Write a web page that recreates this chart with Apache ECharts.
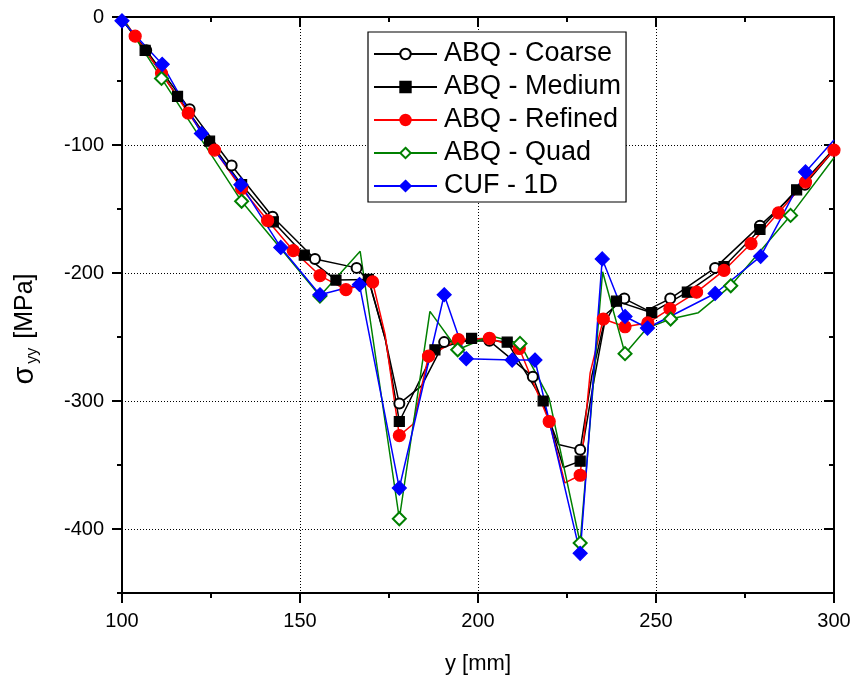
<!DOCTYPE html>
<html>
<head>
<meta charset="utf-8">
<script src="https://cdn.jsdelivr.net/npm/echarts@6/dist/echarts.min.js"></script>
<style>
html,body{margin:0;padding:0;background:#fff;}
#chart{width:855px;height:683px;}
</style>
</head>
<body>
<div id="chart"></div>
<script>
// ---- data (y in mm, sigma_yy in MPa); *Mark: 1 = node drawn with a marker ----
const coarseX = [100, 106.8, 119, 130.8, 142.3, 154.2, 165.9, 169.5, 174, 177.9, 184.2, 190.5, 203.2, 215.4, 222.6, 228.7, 232, 236, 241.1, 247.5, 254, 266.6, 279.2, 291.8, 300];
const coarseY = [-2, -26, -72, -116, -156, -189, -196, -207, -252, -302, -288, -254, -253, -281, -334, -338, -280, -232, -220, -229, -220, -196, -163, -131, -104];
const coarseMark = [0,1,1,1,1,1,1,0,0,1,0,1,1,1,0,1,0,0,1,0,1,1,1,1,0];

const mediumX = [100, 106.5, 115.6, 124.6, 133.6, 142.5, 151.2, 160.1, 169.2, 174, 177.9, 187.9, 198.2, 208.2, 218.3, 224, 228.7, 232.5, 235.5, 238.9, 248.8, 258.8, 269.1, 279.2, 289.5, 300];
const mediumY = [-2, -26, -62, -97, -131, -160, -186, -205.5, -205, -252, -316, -260, -251, -254, -300, -352, -347, -285, -240, -222, -231, -215, -195, -166, -135, -103];
const mediumMark = [0,1,1,1,1,1,1,1,1,0,1,1,1,1,1,0,1,0,0,1,1,1,1,1,1,0];

const refinedX = [100, 103.7, 111.1, 118.6, 126, 133.6, 140.9, 148.1, 155.6, 162.9, 170.4, 173.9, 177.9, 181.8, 186.1, 194.5, 203.2, 211.6, 220, 224.4, 228.7, 231.5, 235.2, 241.3, 247.7, 253.9, 261.4, 269.1, 276.7, 284.4, 292, 300];
const refinedY = [0, -15, -44, -75, -104, -134, -159, -182.5, -202, -213, -207, -248, -327, -318, -265, -252, -251, -259, -316, -364, -358, -278, -236, -242, -239, -228, -215, -198, -177, -153, -129, -104];
const refinedMark = [0,1,1,1,1,1,1,1,1,1,1,0,1,0,1,1,1,1,1,0,1,0,1,1,1,1,1,1,1,1,1,1];

const quadX = [100, 111.1, 133.6, 155.6, 166.9, 177.9, 186.5, 194.3, 203.4, 211.8, 220, 228.7, 235, 241.3, 247.5, 254.1, 261.9, 271, 287.8, 300];
const quadY = [0, -48, -144, -218, -183, -392, -230, -260, -249, -255, -298, -411, -199, -263, -243, -236, -231, -210, -155, -110];
const quadMark = [0,1,1,1,0,1,0,1,0,1,0,1,0,1,0,1,0,1,1,0];

const cufX = [100, 111.3, 122.3, 133.4, 144.6, 155.6, 166.7, 177.9, 190.5, 196.7, 209.6, 216, 228.7, 234.9, 241.3, 247.6, 266.6, 279.4, 292, 300];
const cufY = [-3, -37, -91, -131, -180, -217, -209, -368, -217, -267, -268, -268, -419, -189, -234, -243, -216, -187, -121, -96];
const cufMark = [1,1,1,1,1,1,1,1,1,1,1,1,1,1,1,1,1,1,1,0];

const seriesNames = ['ABQ - Coarse', 'ABQ - Medium', 'ABQ - Refined', 'ABQ - Quad', 'CUF - 1D'];
const yMajorTicks = [-400, -300, -200, -100, 0];
const xMin = 100, xMax = 300, yMin = -450, yMax = 0;

function pts(xs, ys, mk) {
  return xs.map((x, i) => {
    const d = { value: [x, ys[i]] };
    if (!mk[i]) d.symbol = 'none';
    return d;
  });
}

const FONT = '"Liberation Sans", Arial, sans-serif';
const BLACK = '#000';

function lineSeries(name, data, color, symbol, size) {
  return {
    name: name, type: 'line', data: data,
    symbol: symbol, symbolSize: size,
    lineStyle: { color: color, width: 1.5 },
    itemStyle: { color: color, borderColor: color, borderWidth: 1.2 },
    emphasis: { disabled: true },
    animation: false, clip: true, z: 3
  };
}

const axisLine = { show: true, onZero: false, lineStyle: { color: BLACK, width: 2 } };

const option = {
  backgroundColor: '#fff',
  animation: false,
  textStyle: { fontFamily: FONT },
  grid: { left: 122, right: 21, top: 17, bottom: 90, containLabel: false },
  legend: {
    data: seriesNames,
    orient: 'vertical',
    left: 368, top: 32,
    itemWidth: 63, itemHeight: 13, itemGap: 5,
    padding: [8, 5, 2, 5],
    backgroundColor: '#fff',
    borderColor: BLACK, borderWidth: 1.2, borderRadius: 0,
    textStyle: { fontFamily: FONT, fontSize: 27, lineHeight: 28, color: BLACK, padding: [0, 0, 0, 2] },
    selectedMode: false
  },
  xAxis: [
    {
      type: 'value', position: 'bottom', min: xMin, max: xMax, interval: 50,
      axisLine: axisLine,
      axisTick: { show: true, inside: false, length: 10, lineStyle: { color: BLACK, width: 2 } },
      minorTick: { show: true, splitNumber: 2, length: 5, lineStyle: { color: BLACK, width: 2 } },
      axisLabel: { show: true, color: BLACK, fontSize: 20, fontFamily: FONT, margin: 18 },
      splitLine: { show: true, lineStyle: { color: BLACK, width: 1, type: [1, 2] } },
      name: 'y [mm]', nameLocation: 'middle', nameGap: 60,
      nameTextStyle: { color: BLACK, fontSize: 22, fontFamily: FONT }
    },
    {
      type: 'value', position: 'top', min: xMin, max: xMax, interval: 50,
      axisLine: axisLine,
      axisTick: { show: true, inside: true, length: 10, lineStyle: { color: BLACK, width: 2 } },
      minorTick: { show: true, splitNumber: 2, length: 5, lineStyle: { color: BLACK, width: 2 } },
      axisLabel: { show: false }, splitLine: { show: false }
    }
  ],
  yAxis: [
    {
      type: 'value', position: 'left', min: yMin, max: yMax, interval: 50,
      axisLine: axisLine,
      axisTick: { show: true, inside: false, length: 5, lineStyle: { color: BLACK, width: 2 } },
      axisLabel: { show: false }, splitLine: { show: false }
    },
    {
      type: 'value', position: 'left', min: yMin, max: yMax, interval: 50,
      axisLine: axisLine,
      axisTick: { show: true, inside: false, length: 10, customValues: yMajorTicks, lineStyle: { color: BLACK, width: 2 } },
      axisLabel: { show: true, customValues: yMajorTicks, color: BLACK, fontSize: 20, fontFamily: FONT, margin: 18 },
      splitLine: { show: true, lineStyle: { color: BLACK, width: 1, type: [1, 2] } },
      name: '{s|σ}{b|yy}{a| [MPa]}', nameLocation: 'middle', nameGap: 81,
      nameTextStyle: {
        color: BLACK, fontFamily: FONT, padding: [0, 48, 0, 0],
        rich: {
          s: { fontSize: 29, lineHeight: 32, fontFamily: FONT, color: BLACK },
          a: { fontSize: 25, lineHeight: 32, fontFamily: FONT, color: BLACK },
          b: { fontSize: 16, lineHeight: 16, verticalAlign: 'bottom', padding: [0, 2, 0, 3], fontFamily: FONT, color: BLACK }
        }
      }
    },
    {
      type: 'value', position: 'right', min: yMin, max: yMax, interval: 50,
      axisLine: axisLine,
      axisTick: { show: true, inside: true, length: 5, lineStyle: { color: BLACK, width: 2 } },
      axisLabel: { show: false }, splitLine: { show: false }
    },
    {
      type: 'value', position: 'right', min: yMin, max: yMax, interval: 50,
      axisLine: axisLine,
      axisTick: { show: true, inside: true, length: 10, customValues: yMajorTicks, lineStyle: { color: BLACK, width: 2 } },
      axisLabel: { show: false }, splitLine: { show: false }
    }
  ],
  series: [
    lineSeries(seriesNames[0], pts(coarseX, coarseY, coarseMark), BLACK, 'emptyCircle', 10),
    lineSeries(seriesNames[1], pts(mediumX, mediumY, mediumMark), BLACK, 'rect', 10),
    lineSeries(seriesNames[2], pts(refinedX, refinedY, refinedMark), '#ff0000', 'circle', 12),
    lineSeries(seriesNames[3], pts(quadX, quadY, quadMark), '#008000', 'emptyDiamond', 13),
    lineSeries(seriesNames[4], pts(cufX, cufY, cufMark), '#0000ff', 'diamond', 14)
  ]
};

const chart = echarts.init(document.getElementById('chart'), null, { renderer: 'canvas' });
chart.setOption(option);
</script>
</body>
</html>
